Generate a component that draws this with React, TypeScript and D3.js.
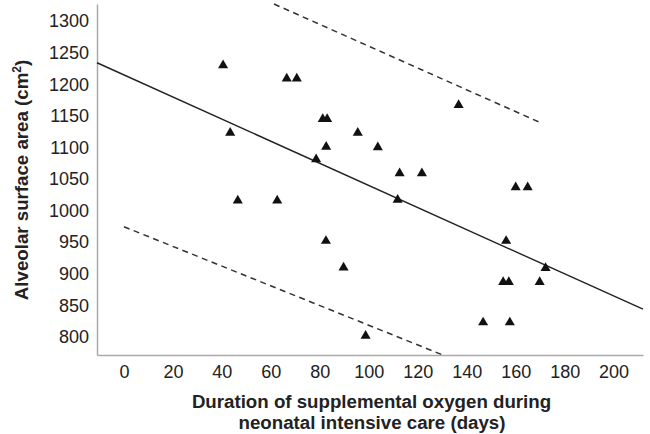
import React, { useEffect, useRef } from "react";
import * as d3 from "d3";

// data
const oxygenDays = [
  40.5, 66.5, 70.6, 43.4, 81.2, 83, 82.6, 78.5, 95.5, 103.7, 112.6, 121.7, 111.8, 136.7,
  46.5, 62.6, 82.5, 89.7, 98.7, 160, 164.9, 156.1, 172.2, 154.9, 157.2, 169.8, 146.7, 157.6,
];
const surfaceArea = [
  1230, 1209, 1209, 1123, 1145, 1145, 1101, 1081, 1123, 1100, 1059, 1059, 1017, 1167,
  1016, 1016, 952, 910, 802, 1037, 1037, 952, 909, 887, 887, 887, 823, 823,
];
const fitLine: [number, number][] = [[-11, 1234], [212, 844]];
const upperBand: [number, number][] = [[61.3, 1327], [170.8, 1138]];
const lowerBand: [number, number][] = [[0, 974.5], [130.2, 771.5]];
const xTicks = [0, 20, 40, 60, 80, 100, 120, 140, 160, 180, 200];
const yTicks = [800, 850, 900, 950, 1000, 1050, 1100, 1150, 1200, 1250, 1300];

const width = 650;
const height = 434;
const font = "'Liberation Sans', Arial, sans-serif";

const App = () => {
  const svgRef = useRef<SVGSVGElement>(null);

  useEffect(() => {
    const svg = d3.select(svgRef.current);
    svg.selectAll("*").remove();

    const x = d3.scaleLinear().domain([-11, 212]).range([97, 643]);
    const y = d3.scaleLinear().domain([771.5, 1327]).range([355, 4]);

    // axes (no tick marks, grey domain lines)
    const xAxis = svg
      .append("g")
      .attr("transform", `translate(0,355)`)
      .call(d3.axisBottom(x).tickValues(xTicks).tickSize(0).tickPadding(10.5).tickFormat(d3.format("d")));
    const yAxis = svg
      .append("g")
      .attr("transform", `translate(97,0)`)
      .call(d3.axisLeft(y).tickValues(yTicks).tickSize(0).tickPadding(8).tickFormat(d3.format("d")));

    [xAxis, yAxis].forEach((g) => {
      g.select(".domain").attr("stroke", "#aaa").attr("stroke-width", 1.5);
      g.selectAll("text")
        .style("fill", "#222")
        .style("font-size", "18px")
        .style("font-family", font);
    });

    const line = d3
      .line<[number, number]>()
      .x((d) => x(d[0]))
      .y((d) => y(d[1]));

    // regression line
    svg
      .append("path")
      .datum(fitLine)
      .attr("fill", "none")
      .attr("stroke", "#222")
      .attr("stroke-width", 1.4)
      .attr("d", line);

    // prediction bands
    [upperBand, lowerBand].forEach((band) => {
      svg
        .append("path")
        .datum(band)
        .attr("fill", "none")
        .attr("stroke", "#333")
        .attr("stroke-width", 1.5)
        .attr("stroke-dasharray", "6,4.5")
        .attr("d", line);
    });

    // data points
    const tri = d3.symbol().type(d3.symbolTriangle).size(44);
    svg
      .selectAll("path.pt")
      .data(oxygenDays)
      .enter()
      .append("path")
      .attr("class", "pt")
      .attr("d", tri)
      .attr("transform", (d, i) => `translate(${x(d)},${y(surfaceArea[i])})`)
      .attr("fill", "#111");

    // axis titles
    const yTitle = svg
      .append("text")
      .attr("transform", `translate(28,180) rotate(-90)`)
      .attr("text-anchor", "middle")
      .style("font-family", font)
      .style("font-weight", "bold")
      .style("font-size", "18.7px")
      .style("fill", "#222");
    yTitle.append("tspan").text("Alveolar surface area (cm");
    yTitle.append("tspan").attr("dy", -7).style("font-size", "12px").text("2");
    yTitle.append("tspan").attr("dy", 7).text(")");

    const xTitle = svg
      .append("text")
      .attr("text-anchor", "middle")
      .style("font-family", font)
      .style("font-weight", "bold")
      .style("font-size", "18.7px")
      .style("fill", "#222");
    xTitle.append("tspan").attr("x", 371.5).attr("y", 408).text("Duration of supplemental oxygen during");
    xTitle.append("tspan").attr("x", 372).attr("y", 429).text("neonatal intensive care (days)");
  }, []);

  return (
    <svg
      ref={svgRef}
      width={width}
      height={height}
      style={{ position: "absolute", left: 0, top: 0, background: "#fff" }}
    ></svg>
  );
};

export default App;
